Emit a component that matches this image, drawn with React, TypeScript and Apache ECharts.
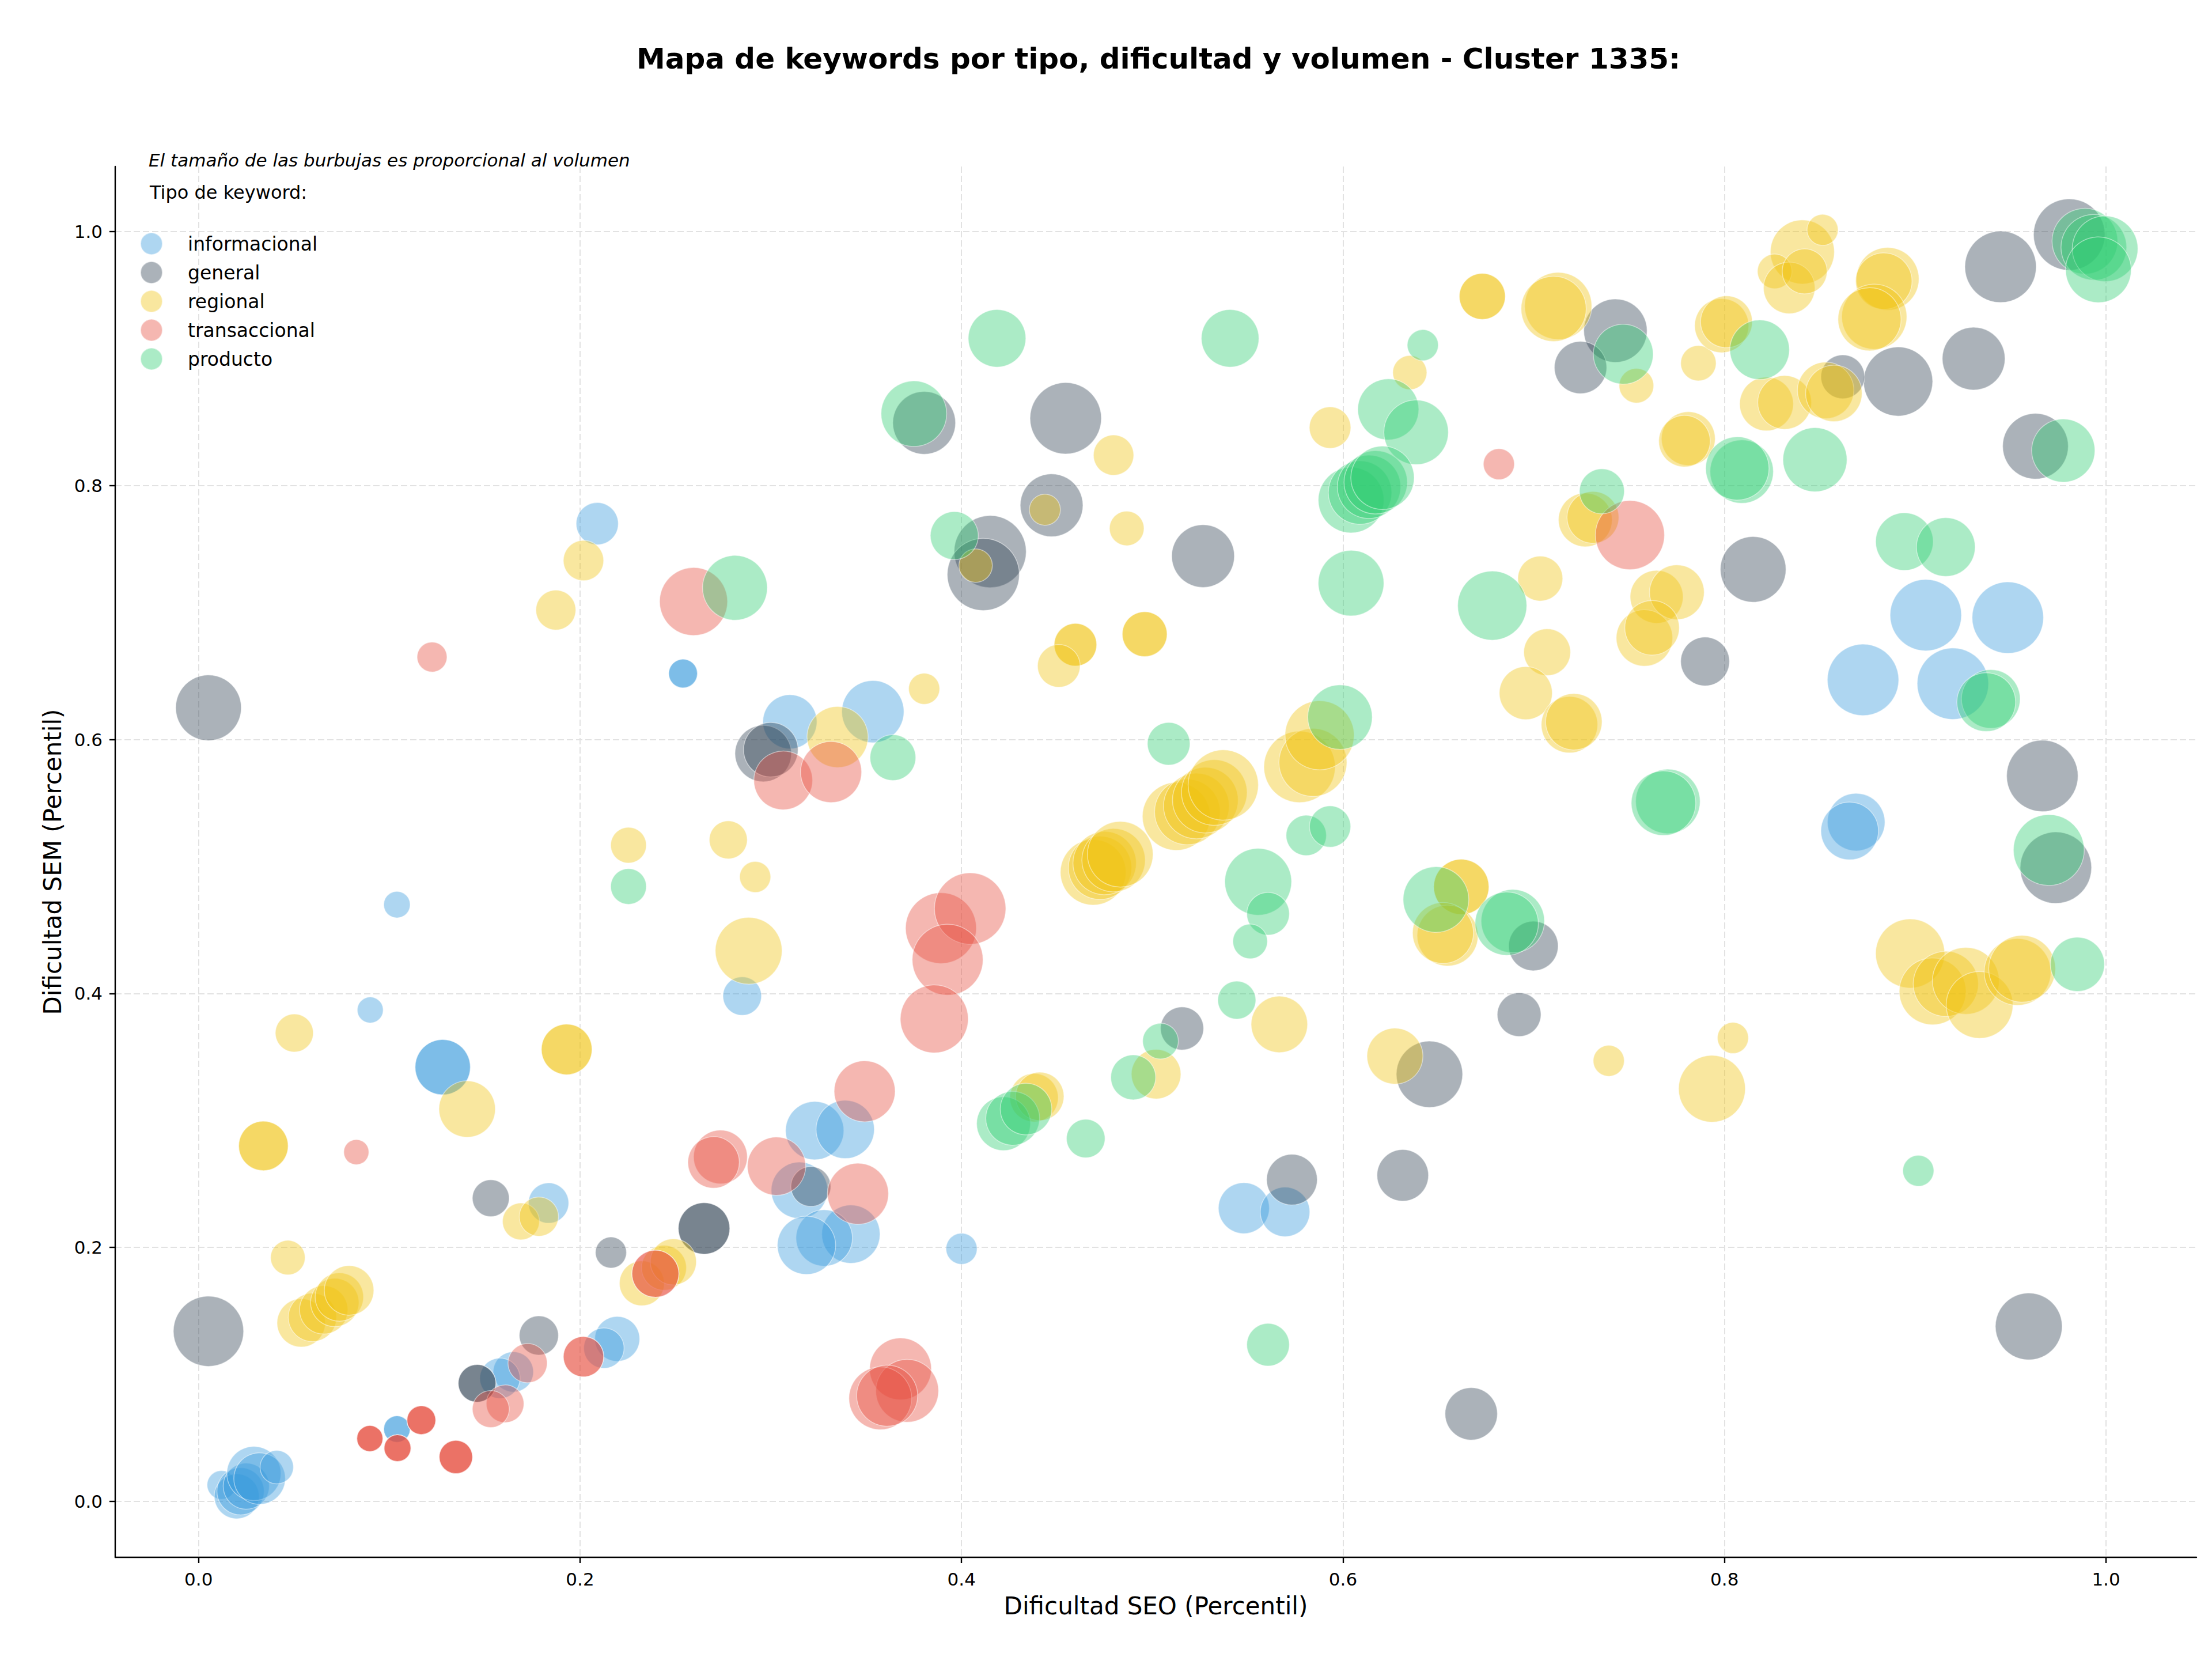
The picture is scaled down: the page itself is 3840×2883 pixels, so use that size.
import React, { useEffect, useRef } from "react";
import * as echarts from "echarts";

const W = 3840;
const H = 2883;
const FONT = "DejaVu Sans";

const TITLE = "Mapa de keywords por tipo, dificultad y volumen - Cluster 1335:";
const SUBTITLE = "El tamaño de las burbujas es proporcional al volumen";
const LEGEND_TITLE = "Tipo de keyword:";
const X_NAME = "Dificultad SEO (Percentil)";
const Y_NAME = "Dificultad SEM (Percentil)";

const xTicks = [0, 0.2, 0.4, 0.6, 0.8, 1.0];
const yTicks = [0, 0.2, 0.4, 0.6, 0.8, 1.0];

const categories = ["informacional", "general", "regional", "transaccional", "producto"];
const colors = [
  "rgba(52,152,219,0.5)",
  "rgba(44,62,80,0.5)",
  "rgba(241,196,15,0.5)",
  "rgba(231,76,60,0.5)",
  "rgba(46,204,113,0.5)",
];

// [dificultad SEO, dificultad SEM, volumen]
const informacional = [
  [0.209, 0.770, 335],
  [0.254, 0.652, 156], [0.254, 0.652, 156],
  [0.104, 0.470, 132],
  [0.090, 0.387, 127],
  [0.128, 0.342, 576], [0.128, 0.342, 576],
  [0.285, 0.398, 280],
  [0.1835, 0.235, 306],
  [0.310, 0.614, 552],
  [0.3535, 0.622, 729],
  [0.323, 0.292, 640],
  [0.339, 0.293, 640],
  [0.315, 0.245, 600],
  [0.342, 0.2105, 640],
  [0.328, 0.2075, 600],
  [0.3187, 0.2017, 640],
  [0.400, 0.199, 182],
  [0.2195, 0.128, 380],
  [0.2125, 0.1207, 306],
  [0.165, 0.102, 306],
  [0.158, 0.097, 306],
  [0.104, 0.057, 132], [0.104, 0.057, 132],
  [0.012, 0.013, 156],
  [0.020, 0.004, 380],
  [0.022, 0.008, 420],
  [0.025, 0.012, 400],
  [0.029, 0.022, 552],
  [0.032, 0.018, 500],
  [0.041, 0.027, 210],
  [0.548, 0.231, 490],
  [0.5696, 0.228, 462],
  [0.8726, 0.647, 961],
  [0.9055, 0.698, 961],
  [0.9197, 0.644, 961],
  [0.9485, 0.696, 961],
  [0.869, 0.535, 625],
  [0.8656, 0.528, 625],
];

const general = [
  [0.0052, 0.625, 812],
  [0.0052, 0.134, 930],
  [0.3804, 0.8494, 742],
  [0.4546, 0.853, 961],
  [0.4472, 0.7845, 742],
  [0.415, 0.748, 980],
  [0.4114, 0.730, 980],
  [0.5266, 0.7445, 742],
  [0.7428, 0.922, 756],
  [0.7245, 0.893, 517],
  [0.9807, 0.9977, 961],
  [0.9447, 0.9723, 961],
  [0.891, 0.882, 900],
  [0.862, 0.8857, 361],
  [0.9306, 0.900, 742],
  [0.963, 0.831, 812],
  [0.815, 0.734, 812],
  [0.7898, 0.6615, 449],
  [0.9666, 0.5714, 961],
  [0.9737, 0.4991, 961],
  [0.6998, 0.4374, 462],
  [0.6923, 0.3834, 361],
  [0.5156, 0.3725, 350],
  [0.6453, 0.3364, 829],
  [0.5732, 0.2534, 484],
  [0.6313, 0.2568, 500],
  [0.6672, 0.069, 517],
  [0.9595, 0.1378, 841],
  [0.1532, 0.2388, 256],
  [0.2162, 0.196, 182],
  [0.265, 0.215, 500], [0.265, 0.215, 500],
  [0.1784, 0.1307, 289],
  [0.146, 0.093, 267], [0.146, 0.093, 267],
  [0.296, 0.589, 600], [0.300, 0.592, 560],
  [0.321, 0.248, 300],
];

const regional = [
  [0.2018, 0.741, 306],
  [0.1873, 0.702, 300],
  [0.2254, 0.5168, 240],
  [0.2777, 0.521, 272],
  [0.2918, 0.4918, 182],
  [0.2884, 0.4337, 841],
  [0.0502, 0.3689, 272],
  [0.193, 0.356, 484], [0.193, 0.356, 484],
  [0.1408, 0.309, 600],
  [0.034, 0.280, 462], [0.034, 0.280, 462],
  [0.0468, 0.192, 225],
  [0.169, 0.2205, 256],
  [0.1784, 0.2243, 289],
  [0.0538, 0.1406, 440],
  [0.0597, 0.145, 440],
  [0.0656, 0.1509, 440],
  [0.0714, 0.1567, 440],
  [0.0738, 0.161, 440],
  [0.0789, 0.1662, 462],
  [0.2324, 0.1718, 380],
  [0.244, 0.184, 380],
  [0.2489, 0.1887, 400],
  [0.4597, 0.6747, 342], [0.4597, 0.6747, 342],
  [0.451, 0.658, 342],
  [0.496, 0.683, 380], [0.496, 0.683, 380],
  [0.3804, 0.640, 182],
  [0.335, 0.602, 702],
  [0.469, 0.4955, 812],
  [0.4726, 0.499, 756],
  [0.475, 0.5027, 756],
  [0.4797, 0.505, 756],
  [0.4832, 0.5097, 812],
  [0.5126, 0.5395, 870],
  [0.5184, 0.543, 812],
  [0.5231, 0.5477, 812],
  [0.5278, 0.5523, 812],
  [0.5325, 0.5583, 812],
  [0.5372, 0.5642, 930],
  [0.5772, 0.5785, 961],
  [0.5842, 0.582, 870],
  [0.5877, 0.6034, 900],
  [0.5666, 0.3757, 600],
  [0.662, 0.484, 576], [0.662, 0.484, 576],
  [0.6548, 0.4456, 700], [0.6524, 0.4477, 700],
  [0.6272, 0.3507, 590],
  [0.502, 0.3365, 462],
  [0.438, 0.318, 441], [0.441, 0.319, 441],
  [0.4797, 0.824, 306],
  [0.4437, 0.781, 182],
  [0.4866, 0.7663, 225],
  [0.4074, 0.737, 210],
  [0.5932, 0.8457, 324],
  [0.635, 0.889, 219],
  [0.673, 0.949, 400], [0.673, 0.949, 400],
  [0.7128, 0.9415, 850], [0.7104, 0.9392, 800],
  [0.7538, 0.8787, 225],
  [0.7863, 0.8964, 236],
  [0.7985, 0.926, 552], [0.801, 0.929, 506],
  [0.8408, 0.984, 773],
  [0.8514, 1.0014, 182],
  [0.8263, 0.9687, 225],
  [0.8339, 0.9557, 500],
  [0.842, 0.9687, 380],
  [0.8855, 0.9628, 742], [0.8835, 0.961, 600],
  [0.8785, 0.933, 800], [0.876, 0.931, 750],
  [0.781, 0.837, 545], [0.779, 0.835, 500],
  [0.822, 0.8643, 545], [0.8315, 0.8655, 545],
  [0.853, 0.875, 600], [0.8573, 0.8726, 600],
  [0.727, 0.773, 545], [0.731, 0.775, 506],
  [0.7034, 0.7268, 380],
  [0.7644, 0.7124, 529], [0.775, 0.716, 564],
  [0.758, 0.680, 600], [0.762, 0.688, 560],
  [0.707, 0.6688, 412],
  [0.6958, 0.6366, 529],
  [0.7187, 0.6117, 600], [0.721, 0.614, 600],
  [0.8973, 0.4315, 900],
  [0.9091, 0.4017, 841],
  [0.916, 0.4076, 800],
  [0.9265, 0.410, 841],
  [0.9337, 0.391, 841],
  [0.9536, 0.417, 841], [0.956, 0.4195, 841],
  [0.7393, 0.347, 182],
  [0.8044, 0.365, 182],
  [0.7934, 0.325, 841],
];

const transaccional = [
  [0.1224, 0.665, 169],
  [0.2595, 0.7087, 870],
  [0.7504, 0.761, 900],
  [0.6817, 0.8169, 182],
  [0.3065, 0.5678, 650],
  [0.3316, 0.5744, 702],
  [0.3892, 0.4515, 946],
  [0.4045, 0.4669, 961],
  [0.3927, 0.4266, 946],
  [0.3857, 0.380, 870],
  [0.3492, 0.323, 702],
  [0.3457, 0.2423, 702],
  [0.368, 0.1044, 720],
  [0.3715, 0.0871, 742],
  [0.3574, 0.0812, 742],
  [0.361, 0.0833, 702],
  [0.2736, 0.2713, 545],
  [0.270, 0.267, 500],
  [0.303, 0.264, 640],
  [0.2018, 0.114, 306], [0.2018, 0.114, 306],
  [0.1725, 0.1089, 289],
  [0.1607, 0.0769, 267],
  [0.1532, 0.0727, 256],
  [0.1168, 0.064, 156], [0.1168, 0.064, 156], [0.1168, 0.064, 156],
  [0.0898, 0.0495, 128], [0.0898, 0.0495, 128], [0.0898, 0.0495, 128],
  [0.1043, 0.042, 136], [0.1043, 0.042, 136], [0.1043, 0.042, 136],
  [0.1349, 0.035, 210], [0.1349, 0.035, 210], [0.1349, 0.035, 210],
  [0.0827, 0.2751, 119],
  [0.2395, 0.1793, 416], [0.2395, 0.1793, 416],
];

const producto = [
  [0.2812, 0.7195, 790],
  [0.4186, 0.916, 625],
  [0.5408, 0.916, 625],
  [0.375, 0.8566, 812],
  [0.3962, 0.7606, 433],
  [0.6418, 0.9106, 182],
  [0.6237, 0.860, 702],
  [0.6383, 0.842, 784],
  [0.6042, 0.7886, 812],
  [0.6089, 0.7945, 756],
  [0.6136, 0.799, 756],
  [0.6171, 0.8026, 756],
  [0.6207, 0.8062, 756],
  [0.6042, 0.7232, 812],
  [0.6782, 0.7055, 900],
  [0.7469, 0.9035, 676],
  [0.8184, 0.907, 668],
  [0.809, 0.811, 756], [0.8067, 0.8135, 756],
  [0.8474, 0.8204, 773],
  [0.9776, 0.8276, 753],
  [0.9889, 0.9925, 812], [0.9936, 0.9877, 812], [0.9995, 0.9865, 812], [0.996, 0.970, 812],
  [0.7357, 0.7955, 380],
  [0.8943, 0.7559, 625],
  [0.916, 0.7516, 650],
  [0.9396, 0.632, 650], [0.9372, 0.6295, 650],
  [0.970, 0.513, 946],
  [0.7703, 0.5513, 784], [0.768, 0.5499, 784],
  [0.689, 0.457, 756], [0.6858, 0.455, 756],
  [0.6487, 0.474, 812],
  [0.5555, 0.488, 841],
  [0.5607, 0.4628, 342],
  [0.5513, 0.441, 225],
  [0.5807, 0.5245, 306],
  [0.5932, 0.5315, 320],
  [0.5086, 0.5967, 342],
  [0.5984, 0.6177, 784],
  [0.364, 0.5858, 394],
  [0.2254, 0.4843, 240],
  [0.5443, 0.3948, 272],
  [0.5043, 0.3625, 240],
  [0.490, 0.334, 380],
  [0.422, 0.2975, 545], [0.4268, 0.3017, 545], [0.4338, 0.309, 500],
  [0.4651, 0.2858, 280],
  [0.5607, 0.1234, 342],
  [0.9016, 0.2604, 182],
  [0.985, 0.423, 552],
];

const seriesData = [informacional, general, regional, transaccional, producto];

function buildOption() {
  const axisCommon = {
    type: "value",
    nameLocation: "middle",
    nameTextStyle: { fontSize: 42, color: "#000", fontFamily: FONT },
    axisLine: { show: true, onZero: false, lineStyle: { color: "#000", width: 2.4 } },
    splitLine: { show: true, lineStyle: { color: "#e2e2e2", type: [11, 5], width: 2 } },
  };
  return {
    animation: false,
    backgroundColor: "#ffffff",
    textStyle: { fontFamily: FONT },
    title: {
      text: TITLE,
      left: 2006,
      top: 72,
      textAlign: "center",
      textStyle: { fontSize: 50, fontWeight: "bold", color: "#000", fontFamily: FONT },
    },
    legend: {
      data: categories,
      orient: "vertical",
      left: 243,
      top: 403,
      itemWidth: 38,
      itemHeight: 38,
      itemGap: 10,
      icon: "circle",
      selectedMode: false,
      padding: 0,
      textStyle: { fontSize: 33, color: "#000", fontFamily: FONT, padding: [0, 0, 0, 39] },
    },
    graphic: [
      {
        type: "text",
        left: 258,
        top: 262,
        z: 100,
        style: { text: SUBTITLE, fontSize: 31, fontStyle: "italic", fontFamily: FONT, fill: "#000" },
      },
      {
        type: "text",
        left: 260,
        top: 318,
        z: 100,
        style: { text: LEGEND_TITLE, fontSize: 32, fontFamily: FONT, fill: "#000" },
      },
    ],
    grid: { left: 200, top: 289, width: 3613, height: 2414 },
    xAxis: {
      ...axisCommon,
      min: -0.0437,
      max: 1.0474,
      name: X_NAME,
      nameGap: 63,
      axisTick: { show: true, length: 10, customValues: xTicks, lineStyle: { color: "#000", width: 2.4 } },
      axisLabel: {
        customValues: xTicks,
        formatter: (v: number) => v.toFixed(1),
        fontSize: 31,
        color: "#000",
        margin: 22,
        fontFamily: FONT,
      },
    },
    yAxis: {
      ...axisCommon,
      min: -0.044,
      max: 1.0513,
      name: Y_NAME,
      nameGap: 88,
      axisTick: { show: true, length: 10, customValues: yTicks, lineStyle: { color: "#000", width: 2.4 } },
      axisLabel: {
        customValues: yTicks,
        formatter: (v: number) => v.toFixed(1),
        fontSize: 31,
        color: "#000",
        margin: 22,
        fontFamily: FONT,
      },
    },
    series: categories.map((name, i) => ({
      name,
      type: "scatter",
      data: seriesData[i],
      symbol: "circle",
      symbolSize: (v: number[]) => 4 * Math.sqrt(v[2]),
      itemStyle: { color: colors[i], borderColor: "rgba(255,255,255,0.6)", borderWidth: 1.5 },
      emphasis: { disabled: true },
      z: 2 + i,
    })),
  };
}

export default function App() {
  const ref = useRef<HTMLDivElement>(null);
  useEffect(() => {
    document.body.style.margin = "0";
    if (!ref.current) return;
    const chart = echarts.init(ref.current, null, { renderer: "svg", width: W, height: H });
    chart.setOption(buildOption() as any);
    return () => chart.dispose();
  }, []);
  return (
    <div
      ref={ref}
      style={{ position: "absolute", left: 0, top: 0, width: W, height: H, background: "#ffffff" }}
    />
  );
}
